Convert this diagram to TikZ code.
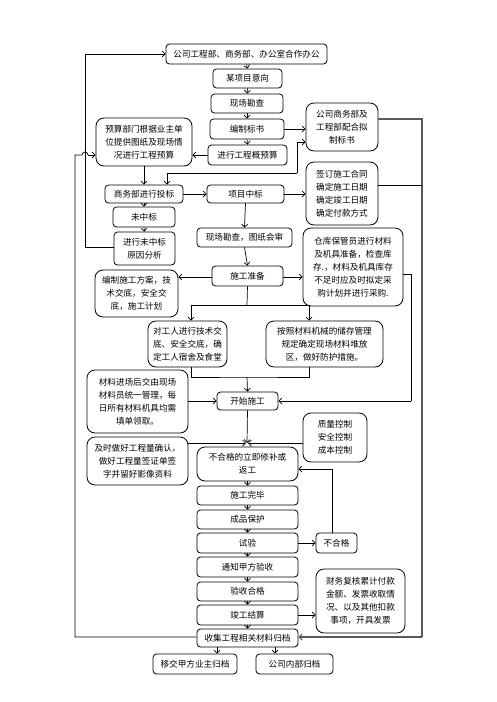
\documentclass[tikz,border=0pt]{standalone}
\usepackage{fontspec}
\setmainfont{Noto Sans CJK SC}
\usetikzlibrary{arrows.meta}
\begin{document}
\begin{tikzpicture}[x=1pt,y=-1pt,
  box/.style={draw, line width=0.8pt, rounded corners=3.5pt, align=center, inner sep=0pt,
    font=\fontsize{8.6}{13}\selectfont},
  bigbox/.style={box, rounded corners=8pt},
  ln/.style={line width=0.7pt},
  arr/.style={ln, -{Straight Barb[length=3pt,width=6pt]}},
  gln/.style={line width=1.1pt, draw=black!65}
]
\useasboundingbox (0,0) rectangle (496,702);
% main column
\node[box, minimum width=161pt, minimum height=20pt] (top) at (246.5,54) {公司工程部、商务部、办公室合作办公};
\node[box, minimum width=69pt, minimum height=19pt] (yx) at (247.5,78.5) {某项目意向};
\node[box, minimum width=72pt, minimum height=19pt] (xckc) at (247,103.5) {现场勘查};
\node[box, minimum width=74pt, minimum height=20pt] (bzbs) at (247,129) {编制标书};
\node[box, minimum width=79pt, minimum height=20pt] (gys) at (247.5,155) {进行工程概预算};
\node[bigbox, minimum width=72pt, minimum height=48pt] (swb) at (342,127) {公司商务部及\\工程部配合拟\\制标书};
\node[bigbox, minimum width=96pt, minimum height=48pt] (ysbm) at (144,142) {预算部门根据业主单\\位提供图纸及现场情\\况进行工程预算};
\node[box, minimum width=78pt, minimum height=18pt] (tb) at (144,194) {商务部进行投标};
\node[box, minimum width=77pt, minimum height=18pt] (zb) at (245.5,194) {项目中标};
\node[bigbox, minimum width=72pt, minimum height=63pt] (qd) at (342,193.5) {签订施工合同\\确定施工日期\\确定竣工日期\\确定付款方式};
\node[box, minimum width=62pt, minimum height=20pt] (wzb) at (144,217) {未中标};
\node[box, minimum width=61pt, minimum height=33pt] (fx) at (144.5,248.5) {进行未中标\\原因分析};
\node[box, minimum width=95pt, minimum height=19pt] (tzhs) at (244.5,237.5) {现场勘查，图纸会审};
\node[box, minimum width=71pt, minimum height=20pt] (sgzb) at (247.5,276) {施工准备};
\node[bigbox, minimum width=100pt, minimum height=78pt] (ck) at (353,267) {仓库保管员进行材料\\及机具准备，检查库\\存.，材料及机具库存\\不足时应及时拟定采\\购计划并进行采购.};
\node[bigbox, minimum width=83pt, minimum height=47pt] (bz) at (136.5,293.5) {编制施工方案，技\\术交底，安全交\\底，施工计划};
\node[bigbox, minimum width=79pt, minimum height=46pt] (dgr) at (187.5,344) {对工人进行技术交\\底、安全交底，确\\定工人宿舍及食堂};
\node[bigbox, minimum width=117pt, minimum height=46pt] (azcl) at (324.5,344) {按照材料机械的储存管理\\规定确定现场材料堆放\\区，做好防护措施。};
\node[bigbox, minimum width=101pt, minimum height=63pt] (clj) at (137.5,401.5) {材料进场后交由现场\\材料员统一管理，每\\日所有材料机具均需\\填单领取。};
\node[box, minimum width=61pt, minimum height=18pt] (ks) at (247.5,401) {开始施工};
\node[bigbox, minimum width=64pt, minimum height=49pt] (zl) at (335,437.5) {质量控制\\安全控制\\成本控制};
\node[bigbox, minimum width=101pt, minimum height=48pt] (js) at (137.5,461) {及时做好工程量确认，\\做好工程量签证单签\\字并留好影像资料};
\node[bigbox, minimum width=101pt, minimum height=34pt] (bhg1) at (247.5,464) {不合格的立即修补或\\返工};
\node[box, minimum width=101pt, minimum height=19pt] (wb) at (247.5,495.5) {施工完毕};
\node[box, minimum width=101pt, minimum height=19pt] (cp) at (247.5,519.5) {成品保护};
\node[box, minimum width=101pt, minimum height=20pt] (sy) at (247.5,543) {试验};
\node[box, minimum width=41pt, minimum height=20pt] (bhg2) at (336.5,543) {不合格};
\node[box, minimum width=101pt, minimum height=20pt] (tz) at (247.5,567) {通知甲方验收};
\node[box, minimum width=101pt, minimum height=19pt] (yshg) at (247.5,591.5) {验收合格};
\node[box, minimum width=101pt, minimum height=20pt] (jg) at (247.5,615) {竣工结算};
\node[bigbox, minimum width=89pt, minimum height=64pt] (cw) at (360.5,601) {财务复核累计付款\\金额、发票收取情\\况、以及其他扣款\\事项，开具发票};
\node[box, minimum width=101pt, minimum height=18pt] (sj) at (247.5,638) {收集工程相关材料归档};
\node[box, minimum width=84pt, minimum height=20pt] (yj) at (195,664) {移交甲方业主归档};
\node[box, minimum width=77pt, minimum height=20pt] (nb) at (294.5,664) {公司内部归档};

% coordinates
\coordinate (m) at (247,443);
\coordinate (j1) at (297,173);
\coordinate (j1t) at (297,142);
\coordinate (L1) at (85,247);
\coordinate (L1t) at (85,54);
\coordinate (L2) at (75,637);
\coordinate (L2t) at (75,155);
\coordinate (R1) at (422,119);
\coordinate (R1b) at (422,637);
\coordinate (R2) at (422,185);
\coordinate (R3) at (411,274);
\coordinate (R3b) at (411,401);
\coordinate (sp) at (247,305);
\coordinate (jn) at (247,377);
\coordinate (bq) at (332,469);

% chain arrows
\foreach \a/\b in {top/yx, yx/xckc, xckc/bzbs, bzbs/gys, zb/tzhs, tzhs/sgzb, bhg1/wb, wb/cp, cp/sy, sy/tz, tz/yshg, yshg/jg, jg/sj}
  \draw[arr] (\a.south) -- (\b.north);
\draw[arr] (bzbs.east) -- (bzbs.east -| swb.west);
\draw[arr] (gys.west) -- (gys.west -| ysbm.east);
\draw[arr] (ysbm.south) -- (tb.north);
\draw[ln] (j1) -- (j1t);
\draw[arr] (j1t) -- (j1t -| swb.west);
\draw[arr] (j1) -| ([xshift=23pt]tb.north);
\draw[arr] (tb.east) -- (zb.west);
\draw[arr] (zb.east) -- (zb.east -| qd.west);
\draw[arr] (tb.south) -- (wzb.north);
\draw[arr] (wzb.south) -- (fx.north);
% left loop to top
\draw[arr] (fx.west |- L1) -- (L1) -- (L1t) -- (top.west);
% left loop from archive to budget box, with hop over x=85
\draw[ln] (sj.west |- L2) -- (L2) -- (L2t) -- (82,155) arc[start angle=180,end angle=0,radius=3pt];
\draw[arr] (88,155) -- (ysbm.west |- L2t);
% right long line
\draw[gln] (swb.east |- R1) -- (R1) -- (R1b);
\draw[gln, -{Straight Barb[length=3pt,width=6pt]}] (R1b) -- (sj.east |- R1b);
\draw[ln] (qd.east |- R2) -- (R2);
\draw[ln] (ck.east |- R3) -- (R3) -- (R3b);
\draw[arr] (R3b) -- (R3b -| ks.east);
% construction prep
\draw[arr] ([yshift=-1pt]sgzb.west) -- ([yshift=-1pt]sgzb.west -| bz.east);
\draw[arr] ([yshift=-1pt]sgzb.east) -- ([yshift=-1pt]sgzb.east -| ck.west);
\draw[ln] (sgzb.south) -- (sp);
\draw[arr] (sp) -| ([xshift=3.5pt]dgr.north);
\draw[arr] (sp) -| ([xshift=-15.5pt]azcl.north);
\draw[ln] ([xshift=3.5pt]dgr.south) |- (jn) -| ([xshift=-15.5pt]azcl.south);
\draw[arr] (jn) -- (ks.north);
\draw[arr] (clj.east |- ks.west) -- (ks.west);
% control convergence
\draw[arr] (ks.south) -- (m);
\draw[arr] (js.east |- m) -- ([xshift=-1pt]m);
\draw[arr] (zl.west |- m) -- ([xshift=1pt]m);
% test failure loop
\draw[arr] (sy.east) -- (bhg2.west);
\draw[ln] (bhg2.north -| bq) -- (bq);
\draw[arr] (bq) -- (bq -| bhg1.east);
\draw[arr] (jg.east) -- (jg.east -| cw.west);
% archive
\draw[arr] ([xshift=-30.5pt]sj.south) -- ([xshift=-30.5pt]sj.south |- yj.north);
\draw[arr] ([xshift=27.5pt]sj.south) -- ([xshift=27.5pt]sj.south |- nb.north);
\end{tikzpicture}
\end{document}
